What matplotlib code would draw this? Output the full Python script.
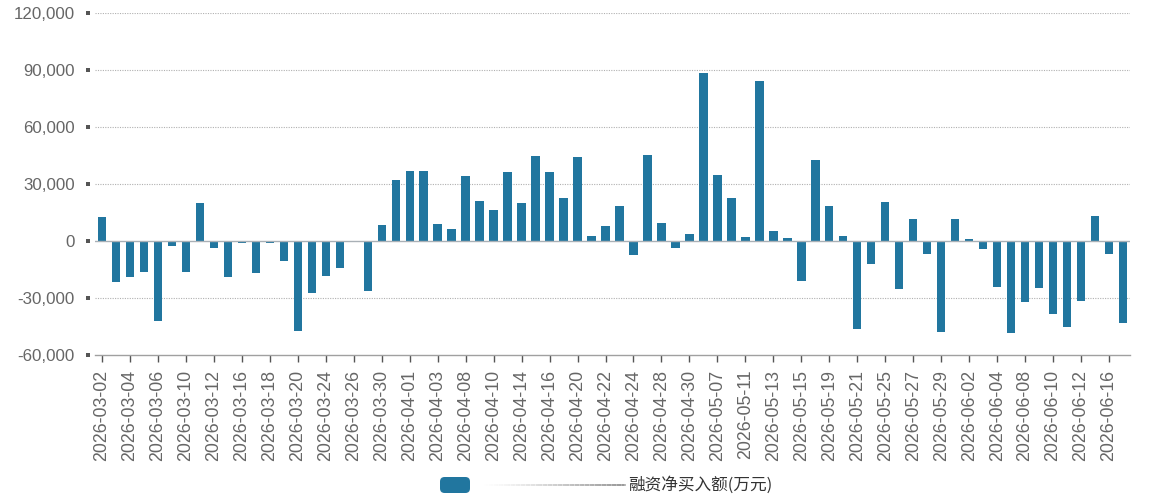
import matplotlib
matplotlib.use("Agg")
import matplotlib.pyplot as plt
import matplotlib.transforms as mtransforms
from matplotlib.patches import FancyBboxPatch
from matplotlib.ticker import FuncFormatter
import numpy as np

plt.rcParams['font.family'] = ['Liberation Sans', 'Noto Sans CJK SC', 'DejaVu Sans']

dates = ["2026-03-02","2026-03-03","2026-03-04","2026-03-05","2026-03-06","2026-03-09","2026-03-10",
         "2026-03-11","2026-03-12","2026-03-13","2026-03-16","2026-03-17","2026-03-18","2026-03-19",
         "2026-03-20","2026-03-23","2026-03-24","2026-03-25","2026-03-26","2026-03-27","2026-03-30",
         "2026-03-31","2026-04-01","2026-04-02","2026-04-03","2026-04-07","2026-04-08","2026-04-09",
         "2026-04-10","2026-04-13","2026-04-14","2026-04-15","2026-04-16","2026-04-17","2026-04-20",
         "2026-04-21","2026-04-22","2026-04-23","2026-04-24","2026-04-27","2026-04-28","2026-04-29",
         "2026-04-30","2026-05-06","2026-05-07","2026-05-08","2026-05-11","2026-05-12","2026-05-13",
         "2026-05-14","2026-05-15","2026-05-18","2026-05-19","2026-05-20","2026-05-21","2026-05-22",
         "2026-05-25","2026-05-26","2026-05-27","2026-05-28","2026-05-29","2026-06-01","2026-06-02",
         "2026-06-03","2026-06-04","2026-06-05","2026-06-08","2026-06-09","2026-06-10","2026-06-11",
         "2026-06-12","2026-06-15","2026-06-16","2026-06-17"]

net_buy = [12600, -21600, -19100, -16500, -41900, -2600, -16500, 19800, -3900, -18800, -900, -16700,
           -900, -10700, -47500, -27200, -18400, -14400, -400, -26100, 8200, 31900,
           37000, 36500, 8900, 6000, 33900, 21200, 16100, 36100, 19800, 44900, 36300, 22500, 43900,
           2600, 7700, 18100, -7500, 45400, 9300, -3900, 3500,
           88200, 34900, 22300, 2300, 84000, 5300, 1600, -21100, 42600, 18200, 2500, -46500, -12300,
           20200, -25100, 11400, -6700, -47900,
           11400, 900, -4200, -24200, -48200, -32300, -24700, -38600, -45100, -31800, 13200, -6800, -43300]

y_ticks = [-60000, -30000, 0, 30000, 60000, 90000, 120000]
legend_label = "融资净买入额(万元)"

bar_color = "#21769f"
text_color = "#666666"

fig = plt.figure(figsize=(11.63, 5.0), dpi=100)
ax = fig.add_axes([95/1163, 1 - 355/500, (1130-95)/1163, (355-12.7)/500])

x = np.arange(len(dates))
ax.bar(x, net_buy, width=0.6, color=bar_color, zorder=3)

ax.set_xlim(-0.5, len(dates) - 0.5)
ax.set_ylim(y_ticks[0], y_ticks[-1])

# grid
for yv in y_ticks:
    if yv == 0:
        ax.axhline(yv, color="#a9b0b6", lw=1.0, zorder=4)
    elif yv != y_ticks[0]:
        ax.axhline(yv, color="#b0b0b0", lw=0.8, ls=(0, (1, 1.2)), zorder=1)

for s in ["top", "right", "left"]:
    ax.spines[s].set_visible(False)
ax.spines["bottom"].set_color("#a0a0a0")
ax.spines["bottom"].set_linewidth(1.0)

ax.set_yticks(y_ticks)
ax.yaxis.set_major_formatter(FuncFormatter(lambda v, p: f"{int(v):,}"))
ax.tick_params(axis="y", length=0, pad=14.4, labelsize=12.2, labelcolor=text_color)

# small square tick markers on y axis
offset = mtransforms.ScaledTranslation(-7.5/100, 0, fig.dpi_scale_trans)
trans = mtransforms.blended_transform_factory(ax.transAxes, ax.transData) + offset
ax.scatter([0]*len(y_ticks), y_ticks, marker="s", s=8, color="#555555",
           transform=trans, clip_on=False, zorder=5, linewidths=0)

ax.set_xticks(x[::2])
ax.set_xticklabels(dates[::2], rotation=90, fontsize=12.8, color=text_color)
ax.tick_params(axis="x", length=5, width=1, color="#555555", pad=5.5)

# legend
fig.patches.append(FancyBboxPatch((440/1163, 1-493/500), 30/1163, 16/500,
                                  boxstyle="round,pad=0,rounding_size=0.004",
                                  transform=fig.transFigure, facecolor=bar_color,
                                  edgecolor="none", mutation_aspect=2.3))
xs = np.linspace(480, 625, 60)
for i in range(len(xs) - 1):
    a = (i / (len(xs) - 1)) ** 1.5
    fig.add_artist(plt.Line2D([xs[i]/1163, xs[i+1]/1163], [1-485/500, 1-485/500],
                              transform=fig.transFigure, color="#888888", alpha=a*0.8, lw=1.2))
fig.text(628/1163, 1-485/500, legend_label, fontsize=12, color="#333333",
         va="center", ha="left", family=["Noto Sans CJK SC", "DejaVu Sans"])

fig.savefig("out.png", dpi=100)
